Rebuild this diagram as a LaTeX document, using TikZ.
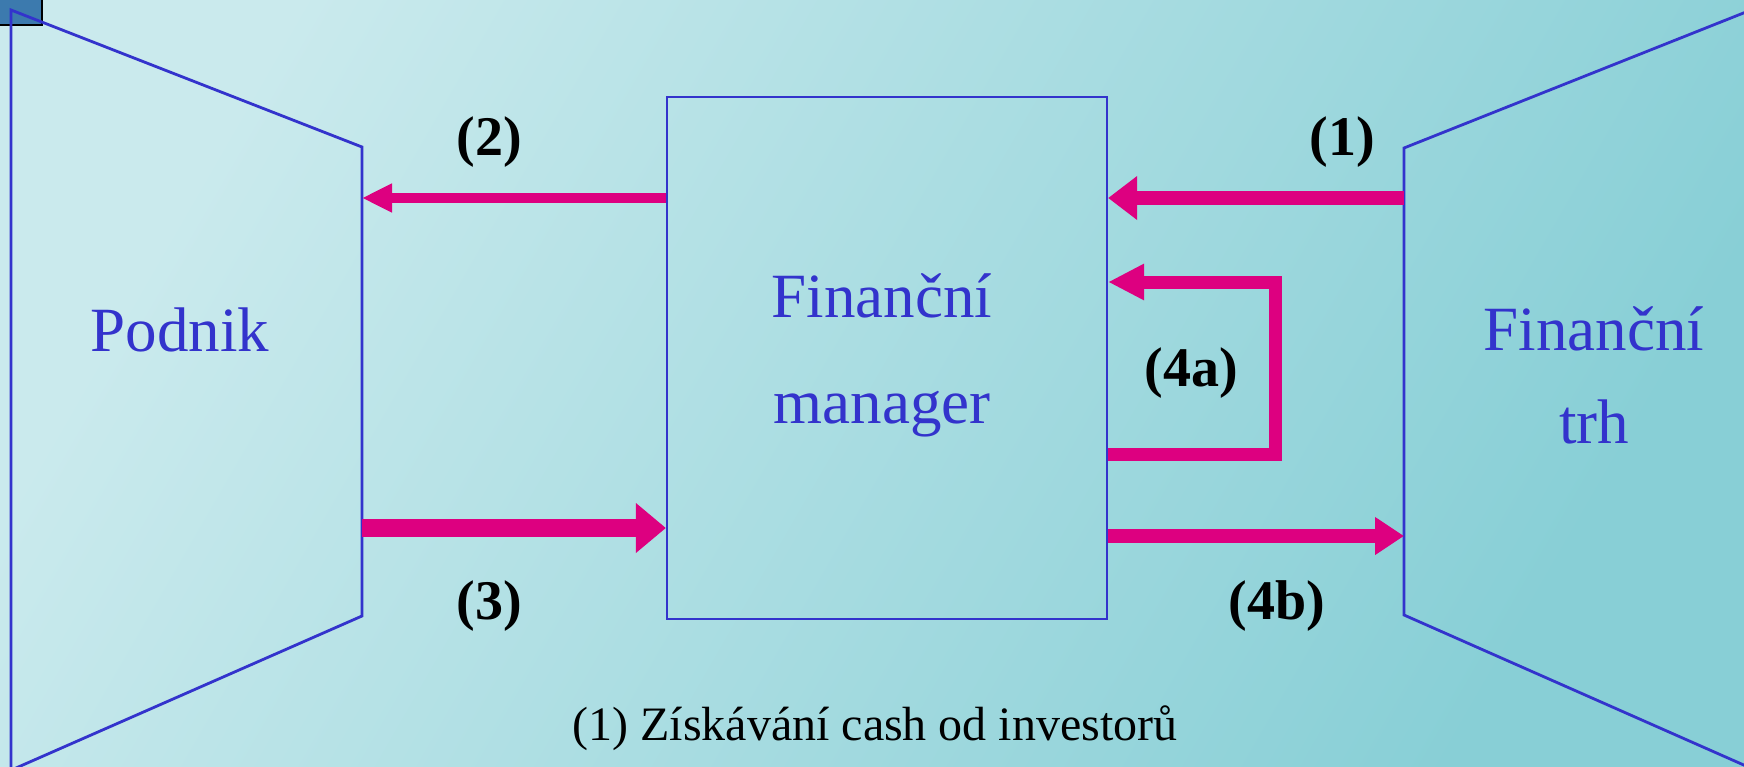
\documentclass[tikz,border=0pt]{standalone}
\usepackage{fontspec}
\setmainfont{Liberation Serif}
\usetikzlibrary{arrows.meta}
\definecolor{bgA}{HTML}{CAEAED}
\definecolor{bgD}{HTML}{88CFD6}
\definecolor{lineblue}{HTML}{3333CC}
\definecolor{mag}{HTML}{DD0080}
\definecolor{sqblue}{HTML}{3C7AAE}
\tikzset{
  outline/.style={draw=lineblue, line width=2.8pt, line join=miter},
  boxline/.style={draw=lineblue, line width=2.2pt},
  bluetxt/.style={text=lineblue, font=\fontsize{63}{106}\selectfont, align=center, inner sep=0pt},
  lbl/.style={font=\fontsize{56}{60}\selectfont\bfseries, text=black, inner sep=0pt},
  flow/.style={draw=mag, line cap=butt, line join=miter},
}
\begin{document}
\begin{tikzpicture}[x=1pt,y=-1pt]
\useasboundingbox (0,0) rectangle (1744,767);
\shade[top color=bgA, bottom color=bgD, shading angle=60] (0,0) rectangle (1744,767);
% small square top-left
\draw[fill=sqblue, draw=black, line width=1.5pt] (-2,-2) rectangle (42,25);
% left trapezoid (Podnik)
\coordinate (LTo) at (11,10);
\coordinate (LTi) at (362,147);
\coordinate (LBi) at (362,616);
\coordinate (LBo) at (16,768);
\coordinate (LBv) at (11,768);
\draw[outline] (LBv) -- (LTo) -- (LTi) -- (LBi) -- (LBo);
\node[bluetxt] (podnik) at (180,330) {Podnik};
% right trapezoid (Financni trh)
\coordinate (RTo) at (1746,12);
\coordinate (RTi) at (1404,148);
\coordinate (RBi) at (1404,615);
\coordinate (RBo) at (1746,766);
\draw[outline] (RTo) -- (RTi) -- (RBi) -- (RBo);
\node[bluetxt, font=\fontsize{63}{93}\selectfont] (trh) at (1594,375) {Finanční\\trh};
% central box
\node[boxline, minimum width=440pt, minimum height=522pt, inner sep=0pt] (fm) at (887,358) {};
\node[bluetxt] (fmtxt) at (882,355) {Finanční\\manager};
% arrows
\draw[flow, line width=10pt, -{Triangle[length=30pt,width=27pt]}] (fm.west |- 0,198) -- (LTi |- 0,198);
\draw[flow, line width=14pt, -{Triangle[length=29pt,width=42pt]}] (RTi |- 0,198) -- (fm.east |- 0,198);
\draw[flow, line width=18pt, -{Triangle[length=30pt,width=48pt]}] (LTi |- 0,528) -- (fm.west |- 0,528);
\draw[flow, line width=14pt, -{Triangle[length=29pt,width=36pt]}] (fm.east |- 0,536) -- (RTi |- 0,536);
\coordinate (la) at (1275,454);
\coordinate (lb) at (1275,282);
\draw[flow, line width=13pt, -{Triangle[length=36pt,width=34pt]}] (fm.east |- la) -- (la) -- (lb) -- (fm.east |- lb);
% labels
\node[lbl] (l2) at (489,142) {(2)};
\node[lbl] (l1) at (1342,142) {(1)};
\node[lbl] (l3) at (489,606) {(3)};
\node[lbl] (l4a) at (1191,373) {(4a)};
\node[lbl] (l4b) at (1277,606) {(4b)};
\node[font=\fontsize{48}{52}\selectfont, text=black, inner sep=0pt] (note) at (875,728) {(1) Získávání cash od investorů};
\end{tikzpicture}
\end{document}
